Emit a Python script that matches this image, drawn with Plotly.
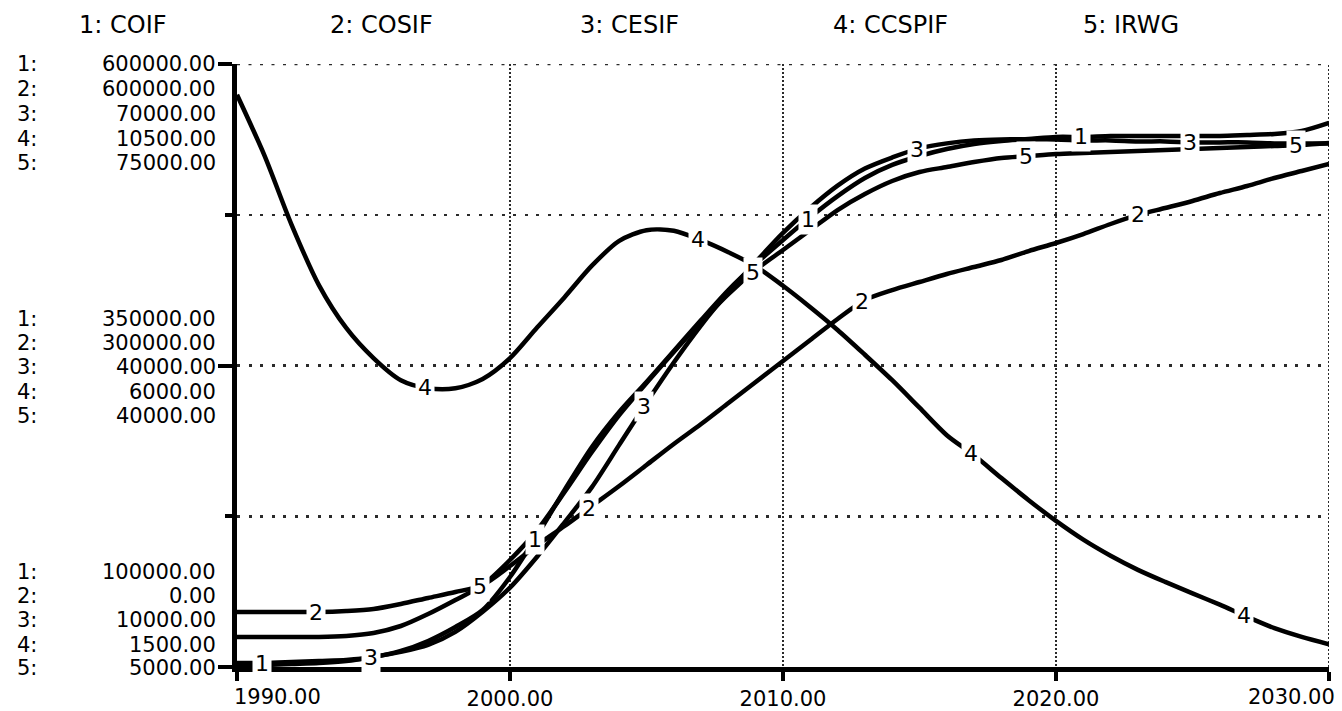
import numpy as np
import plotly.graph_objects as go

# ---------------- data ----------------
years = list(range(1990, 2031))

COIF = [103300, 103300, 104100, 105000, 105800, 108300, 113300, 121600, 133200, 147300,
        174600, 209500, 246800, 282400, 311400, 336300, 362000, 387700, 412600, 434200,
        454100, 473100, 490500, 505500, 516300, 523700, 529500, 533700, 536200, 537800,
        539500, 539500, 540300, 540300, 540300, 540300, 540300, 541100, 542000, 544400,
        551100]

COSIF = [54700, 54700, 54700, 54700, 55700, 57700, 62700, 68700, 74600, 81600,
         100500, 121400, 140300, 160200, 180100, 201000, 221900, 241800, 262700, 283600,
         304500, 325400, 346300, 365200, 375100, 383100, 391000, 398000, 405000, 413900,
         421900, 430800, 440800, 449800, 456700, 463700, 471600, 478600, 486600, 493500,
         500500]

CESIF = [10200, 10200, 10300, 10400, 10600, 11000, 11500, 12200, 13500, 15500,
         17900, 21000, 24400, 27900, 32100, 36300, 40300, 44000, 47300, 50300,
         53200, 55700, 57900, 59600, 60700, 61600, 62100, 62400, 62500, 62500,
         62500, 62400, 62400, 62300, 62300, 62200, 62200, 62200, 62100, 62100,
         62100]

CCSPIF = [10040, 9140, 8100, 7200, 6560, 6110, 5780, 5660, 5660, 5800,
          6110, 6570, 7020, 7490, 7860, 8020, 8010, 7870, 7690, 7480,
          7190, 6870, 6530, 6160, 5780, 5370, 4960, 4660, 4320, 3990,
          3680, 3400, 3160, 2950, 2770, 2600, 2430, 2250, 2080, 1950,
          1840]

IRWG = [8480, 8480, 8480, 8480, 8600, 8950, 9760, 11150, 12780, 14520,
        17420, 20900, 25320, 29960, 34250, 37970, 41570, 45050, 48300, 51090,
        53410, 55730, 58050, 59910, 61420, 62460, 63040, 63620, 64090, 64320,
        64550, 64670, 64780, 64900, 65020, 65130, 65250, 65360, 65480, 65600,
        65830]

series_names = ["COIF", "COSIF", "CESIF", "CCSPIF", "IRWG"]
series_values = [COIF, COSIF, CESIF, CCSPIF, IRWG]
axis_min = [100000, 0, 10000, 1500, 5000]
axis_mid = [350000, 300000, 40000, 6000, 40000]
axis_max = [600000, 600000, 70000, 10500, 75000]

label_years = [
    [1990.9, 2000.9, 2010.9, 2020.9],
    [1992.9, 2002.9, 2012.9, 2023.0],
    [1994.9, 2004.9, 2014.9, 2024.9],
    [1996.9, 2006.9, 2016.9, 2026.9],
    [1998.9, 2008.9, 2018.9, 2028.8],
]

x_ticks = [1990, 2000, 2010, 2020, 2030]
x_tick_text = ["1990.00", "2000.00", "2010.00", "2020.00", "2030.00"]

# ---------------- figure ----------------
W, H = 1342, 711
ML, MR, MT, MB = 237, 13, 64, 44
PW = W - ML - MR

FONT = "DejaVu Sans"
GRID_COLOR = "#2a2a2a"
HDASH = "3px,8.5px"
VDASH = "2px,2px"

fig = go.Figure()
yrefs = ["y", "y2", "y3", "y4", "y5"]
for i, vals in enumerate(series_values):
    fig.add_trace(go.Scatter(
        x=years, y=vals, mode="lines", name=series_names[i],
        line=dict(color="black", width=4.5, shape="spline", smoothing=0.8),
        yaxis=yrefs[i], showlegend=False, hoverinfo="skip",
    ))

annotations = []

# header (legend-like)
header_px = [77, 328, 578, 831, 1081]
for i, name in enumerate(series_names):
    annotations.append(dict(
        text=f"{i+1}: {name}", xref="paper", yref="paper",
        x=(header_px[i] - ML) / PW, y=1, xanchor="left", yanchor="middle",
        yshift=39, showarrow=False, font=dict(family=FONT, size=24, color="black"),
    ))

# stacked multi-scale y labels
blocks = [
    (1.0, axis_max, [0, -25, -50, -75, -99]),
    (0.5, axis_mid, [47, 23, -1, -26, -50]),
    (0.0, axis_min, [95, 71, 47, 22, -1]),
]
for ypos, vals, shifts in blocks:
    for i, v in enumerate(vals):
        annotations.append(dict(
            text=f"{v:.2f}", xref="paper", yref="paper", x=0, y=ypos,
            xanchor="right", yanchor="middle", xshift=-19, yshift=shifts[i],
            showarrow=False, font=dict(family=FONT, size=21, color="black"),
        ))
        annotations.append(dict(
            text=f"{i+1}:", xref="paper", yref="paper", x=0, y=ypos,
            xanchor="left", yanchor="middle", xshift=-(ML - 15), yshift=shifts[i],
            showarrow=False, font=dict(family=FONT, size=21, color="black"),
        ))

# end x tick labels (aligned inward like the original)
annotations.append(dict(
    text=x_tick_text[0], xref="x", yref="paper", x=x_ticks[0], y=0,
    xanchor="left", yanchor="middle", xshift=-5, yshift=-30, showarrow=False,
    font=dict(family=FONT, size=21, color="black"),
))
annotations.append(dict(
    text=x_tick_text[-1], xref="x", yref="paper", x=x_ticks[-1], y=0,
    xanchor="right", yanchor="middle", xshift=8, yshift=-30, showarrow=False,
    font=dict(family=FONT, size=21, color="black"),
))

# numbered curve labels
for i, vals in enumerate(series_values):
    for ly in label_years[i]:
        annotations.append(dict(
            text=str(i + 1), xref="x", yref=yrefs[i], x=ly,
            y=float(np.interp(ly, years, vals)), showarrow=False,
            xanchor="center", yanchor="middle", bgcolor="white", borderpad=2,
            font=dict(family=FONT, size=22, color="black"),
        ))

layout_axes = dict(
    xaxis=dict(
        range=[1990, 2030], tickvals=x_ticks,
        ticktext=[""] + x_tick_text[1:-1] + [""],
        ticks="outside", ticklen=9, tickwidth=4, tickcolor="black",
        showline=True, linewidth=5, linecolor="black", zeroline=False,
        showgrid=True, gridcolor=GRID_COLOR, gridwidth=2, griddash=VDASH,
        tickfont=dict(family=FONT, size=21, color="black"),
        automargin=False,
    ),
    yaxis=dict(
        range=[axis_min[0], axis_max[0]],
        tickvals=[axis_min[0], axis_mid[0], axis_max[0]],
        showticklabels=False, ticks="outside", ticklen=14, tickwidth=4,
        tickcolor="black", showline=True, linewidth=5, linecolor="black",
        zeroline=False, showgrid=True, gridcolor=GRID_COLOR, gridwidth=2.5,
        griddash=HDASH, automargin=False,
        minor=dict(
            tickvals=[(axis_min[0] + axis_mid[0]) / 2, (axis_mid[0] + axis_max[0]) / 2],
            ticks="outside", ticklen=7, tickwidth=4, tickcolor="black",
            showgrid=True, gridcolor=GRID_COLOR, gridwidth=2.5, griddash=HDASH,
        ),
    ),
)
for i in range(1, 5):
    layout_axes[f"yaxis{i+1}"] = dict(
        range=[axis_min[i], axis_max[i]], overlaying="y", visible=False,
    )

# dotted grid lines on the top and right edges of the plot frame
shapes = [
    dict(type="line", xref="x", yref="paper", x0=x_ticks[-1], x1=x_ticks[-1],
         y0=0, y1=1, line=dict(color=GRID_COLOR, width=2, dash=VDASH), layer="below"),
    dict(type="line", xref="paper", yref="y", x0=0, x1=1,
         y0=axis_max[0], y1=axis_max[0],
         line=dict(color=GRID_COLOR, width=2.5, dash=HDASH), layer="below"),
]

fig.update_layout(
    width=W, height=H,
    margin=dict(l=ML, r=MR, t=MT, b=MB, autoexpand=False),
    plot_bgcolor="white", paper_bgcolor="white",
    showlegend=False, annotations=annotations, shapes=shapes,
    **layout_axes,
)

fig.write_html(
    "out.html",
    config={"displayModeBar": False, "staticPlot": True},
    post_script="document.body.style.margin='0';document.body.style.overflow='hidden';",
)
